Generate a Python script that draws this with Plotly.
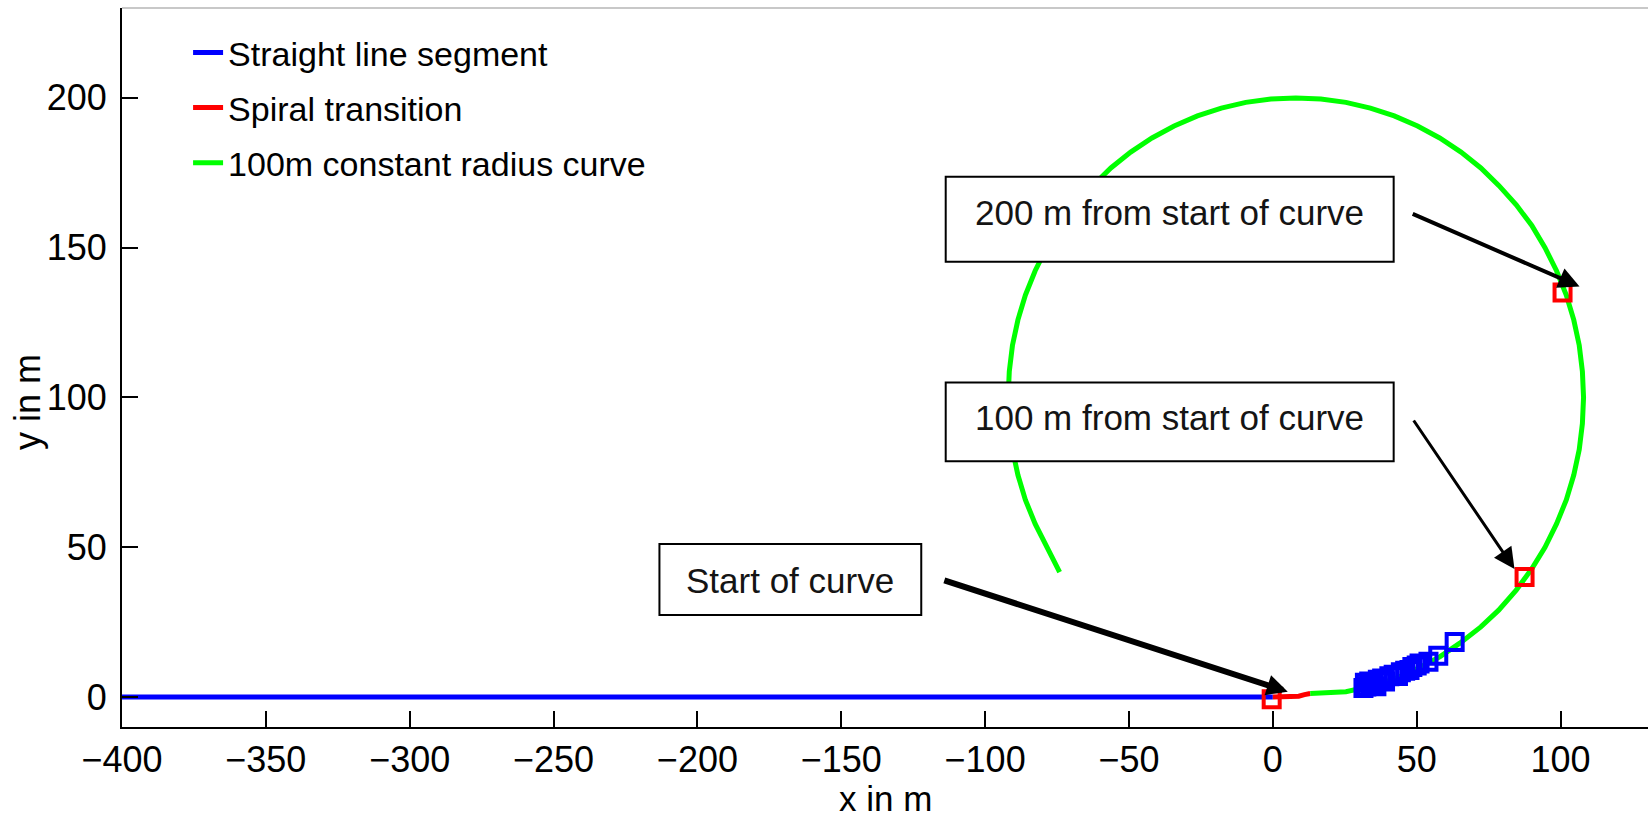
import plotly.graph_objects as go

# ---------------- data ----------------
straight_x = [-400, 0]
straight_y = [0, 0]

spiral_x = [0, 3, 6, 9, 11, 13]
spiral_y = [0, 0, 0.1, 0.3, 0.8, 1.2]

curve_x = [13.0, 20.0, 25.4, 33.0, 42.2, 50.0, 58.0, 65.0, 72.3, 78.5, 84.6, 90.0, 94.6,
           98.6, 102.0, 104.6, 106.5, 107.6, 108.0, 107.6, 106.5, 104.6, 102.0, 98.6,
           94.6, 90.0, 84.6, 78.6, 72.3, 65.4, 58.0, 50.3, 42.2, 33.9, 25.4, 16.7, 8.0,
           -0.7, -9.4, -17.9, -26.2, -34.3, -42.0, -49.4, -56.3, -62.6, -68.6, -74.0,
           -78.6, -82.6, -86.0, -88.6, -90.5, -91.6, -92.0, -91.6, -90.5, -88.6, -86.0,
           -82.6, -78.6, -74.1]
curve_y = [1.2, 1.5, 1.8, 3.4, 6.0, 9.4, 13.4, 18.0, 23.4, 29.0, 35.7, 42.8, 50.0,
           57.8, 65.8, 74.1, 82.6, 91.3, 100.0, 108.7, 117.4, 125.9, 134.2, 142.3,
           150.0, 157.4, 164.3, 170.7, 176.6, 181.9, 186.6, 190.6, 194.0, 196.6, 198.5,
           199.6, 200.0, 199.6, 198.5, 196.6, 194.0, 190.6, 186.6, 181.9, 176.6, 170.7,
           164.3, 157.4, 150.0, 142.3, 134.2, 125.9, 117.4, 108.7, 100.0, 91.3, 82.6,
           74.1, 65.8, 57.8, 50.0, 41.7]

blue_pts_x = [31.5, 32.0, 32.5, 33.5, 34.0, 35.0, 36.0, 36.5, 38.0, 39.0, 40.5, 42.0,
              43.5, 44.5, 46.0, 47.5, 48.5, 50.0, 51.0, 54.1, 57.5, 63.2]
blue_pts_y = [3.0, 4.8, 3.5, 5.2, 3.8, 4.2, 3.6, 5.8, 6.2, 5.2, 6.9, 7.4,
              7.0, 8.3, 8.8, 9.0, 10.0, 10.5, 11.2, 11.8, 13.8, 18.4]

red_pts_x = [-0.4, 87.5, 100.7]
red_pts_y = [-0.7, 40.1, 135.0]

x_ticks = [-400, -350, -300, -250, -200, -150, -100, -50, 0, 50, 100]
y_ticks = [0, 50, 100, 150, 200]

legend_names = ["Straight line segment", "Spiral transition", "100m constant radius curve"]
x_title = "x in m"
y_title = "y in m"

# annotations: text boxes (data coords) and arrows (tip, tail)
box_texts = ["Start of curve", "200 m from start of curve", "100 m from start of curve"]
box_x0 = [-213.2, -113.7, -113.7]
box_x1 = [-122.2, 42.0, 42.0]
box_y0 = [27.4, 145.3, 78.7]
box_y1 = [51.1, 173.7, 105.0]
text_x = [-167.7, -35.8, -35.8]
text_y = [39.0, 161.6, 93.2]

arrow_tip_x = [5.2, 106.6, 84.0]
arrow_tip_y = [1.8, 137.0, 42.7]
arrow_tail_x = [-114.7, 48.1, 48.6]
arrow_tail_y = [39.1, 161.5, 92.8]
arrow_w = [6, 4, 3]

FONT = "Liberation Sans, Arial, Helvetica, sans-serif"
BLUE, RED, GREEN = "#0000ff", "#ff0000", "#00ff00"

fig = go.Figure()
fig.add_trace(go.Scatter(x=straight_x, y=straight_y, mode="lines", name=legend_names[0],
                         line=dict(color=BLUE, width=5), legendgroup="a"))
fig.add_trace(go.Scatter(x=spiral_x, y=spiral_y, mode="lines", name=legend_names[1],
                         line=dict(color=RED, width=5), legendgroup="b"))
fig.add_trace(go.Scatter(x=curve_x, y=curve_y, mode="lines", name=legend_names[2],
                         line=dict(color=GREEN, width=5), legendgroup="c"))
fig.add_trace(go.Scatter(x=blue_pts_x, y=blue_pts_y, mode="markers", showlegend=False,
                         marker=dict(symbol="square-open", size=16, color=BLUE,
                                     line=dict(color=BLUE, width=4))))
fig.add_trace(go.Scatter(x=red_pts_x, y=red_pts_y, mode="markers", showlegend=False,
                         marker=dict(symbol="square-open", size=16, color=RED,
                                     line=dict(color=RED, width=4))))

shapes = []
for i in range(len(box_texts)):
    shapes.append(dict(type="rect", xref="x", yref="y", x0=box_x0[i], x1=box_x1[i],
                       y0=box_y0[i], y1=box_y1[i], line=dict(color="black", width=2),
                       fillcolor="white", layer="above"))
# light grey top frame line
shapes.append(dict(type="line", xref="paper", yref="paper", x0=0, x1=1, y0=1, y1=1,
                   line=dict(color="#c8c8c8", width=2)))

annotations = []
for i in range(len(box_texts)):
    annotations.append(dict(x=text_x[i], y=text_y[i], xref="x", yref="y", text=box_texts[i],
                            showarrow=False, xanchor="center", yanchor="middle",
                            font=dict(family=FONT, size=35, color="#141414")))
for i in range(len(arrow_tip_x)):
    annotations.append(dict(x=arrow_tip_x[i], y=arrow_tip_y[i], xref="x", yref="y",
                            ax=arrow_tail_x[i], ay=arrow_tail_y[i], axref="x", ayref="y",
                            text="", showarrow=True, arrowhead=2, arrowcolor="black",
                            arrowwidth=arrow_w[i], arrowsize=4.2 / arrow_w[i], standoff=0))
# axis titles
annotations.append(dict(x=-0.0623, y=0.452, xref="paper", yref="paper", text=y_title,
                        textangle=-90, showarrow=False, xanchor="center", yanchor="middle",
                        font=dict(family=FONT, size=36, color="black")))
annotations.append(dict(x=0.5, y=-0.0988, xref="paper", yref="paper", text=x_title,
                        showarrow=False, xanchor="center", yanchor="middle",
                        font=dict(family=FONT, size=35, color="black")))

axis_common = dict(showline=True, linecolor="black", linewidth=2, ticks="inside",
                   ticklen=16, tickwidth=2, tickcolor="black", showgrid=False,
                   zeroline=False, mirror=False, automargin=False,
                   tickfont=dict(family=FONT, size=36, color="black"))

fig.update_layout(
    width=1648, height=822,
    margin=dict(l=122, r=0, t=8, b=95, pad=0, autoexpand=False),
    paper_bgcolor="white", plot_bgcolor="white",
    showlegend=True,
    legend=dict(x=0.0433, y=0.978, xanchor="left", yanchor="top",
                bgcolor="rgba(0,0,0,0)", borderwidth=0, tracegroupgap=8,
                traceorder="grouped",
                font=dict(family=FONT, size=34, color="black")),
    xaxis=dict(range=[-400, 130.4], tickvals=x_ticks, ticklabelstandoff=0,
               **axis_common),
    yaxis=dict(range=[-10, 230], tickvals=y_ticks, ticklabelstandoff=6,
               **axis_common),
    shapes=shapes,
    annotations=annotations,
)

fig.write_html("out.html")
